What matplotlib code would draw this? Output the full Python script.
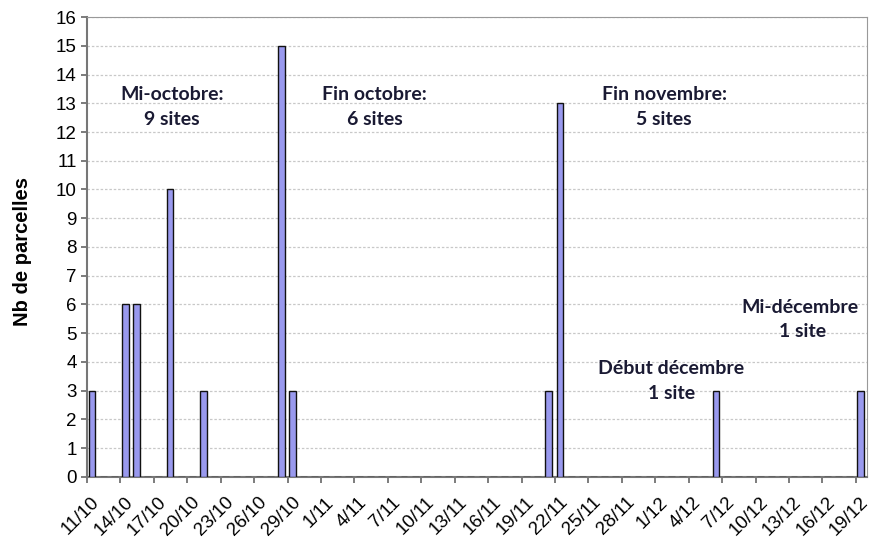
import matplotlib
matplotlib.use('Agg')
import matplotlib.pyplot as plt
import matplotlib.transforms as mtransforms
import pandas as pd

# daily category axis, 11/10 -> 19/12
days = pd.date_range('2000-10-11', '2000-12-19', freq='D')
day_labels = [f"{d.day}/{d.month}" for d in days]

# days with plots (date -> number of parcels)
obs_dates = ['11/10', '14/10', '15/10', '18/10', '21/10', '28/10', '29/10',
             '21/11', '22/11', '6/12', '19/12']
obs_counts = [3, 6, 6, 10, 3, 15, 3, 3, 13, 3, 3]

counts = [0] * len(day_labels)
for d, c in zip(obs_dates, obs_counts):
    counts[day_labels.index(d)] = c

tick_idx = list(range(0, len(day_labels), 3))
tick_labels = [day_labels[i] for i in tick_idx]

fig = plt.figure(figsize=(8.72, 5.42), dpi=100)
ax = fig.add_axes([0.0998, 0.12, 0.8945, 0.8486])

xpos = [i + 0.45 for i in range(len(day_labels))]
ax.bar(xpos, counts, width=0.62, color='#9999ee', edgecolor='#111111',
       linewidth=1.0, zorder=3)

ax.set_xlim(0, len(day_labels))
ax.set_ylim(0, 16)
ax.set_yticks(range(0, 17))
ax.set_xticks(tick_idx)
ax.set_xticklabels(tick_labels, rotation=45, ha='right', va='center',
                   rotation_mode='anchor', fontsize=13.5, family='Liberation Sans')
ax.set_yticklabels([str(v) for v in range(0, 17)], fontsize=13.5,
                   family='Liberation Sans')
ax.tick_params(axis='both', color='#666666', width=1.2, length=4.5)
ax.tick_params(axis='x', pad=12)
ax.tick_params(axis='y', pad=3)

# shift rotated date labels a bit to the right like the original
offset = mtransforms.ScaledTranslation(0.1, 0, fig.dpi_scale_trans)
for lab in ax.get_xticklabels():
    lab.set_transform(lab.get_transform() + offset)

ax.yaxis.grid(True, linestyle=(0, (2, 1.5)), color='#c8c8c8', linewidth=0.9, zorder=0)
for s in ['top', 'right']:
    ax.spines[s].set_color('#999999')
for s in ['left', 'bottom']:
    ax.spines[s].set_color('#777777')
    ax.spines[s].set_linewidth(1.5)

ax.set_ylabel('Nb de parcelles', fontsize=14.5, fontweight='bold',
              family='Liberation Sans')
ax.yaxis.set_label_coords(-0.07, 0.49)

txt = dict(fontsize=14, fontweight='bold', color='#1a1a33', family='Lato',
           ha='center', va='center')
ax.text(7.6, 13.3, 'Mi-octobre:', **txt)
ax.text(7.6, 12.45, '9 sites', **txt)
ax.text(25.8, 13.3, 'Fin octobre:', **txt)
ax.text(25.8, 12.45, '6 sites', **txt)
ax.text(51.8, 13.3, 'Fin novembre:', **txt)
ax.text(51.8, 12.45, '5 sites', **txt)
ax.text(64.0, 5.91, 'Mi-décembre', **txt)
ax.text(64.2, 5.05, '1 site', **txt)
ax.text(52.4, 3.79, 'Début décembre', **txt)
ax.text(52.5, 2.9, '1 site', **txt)

plt.savefig('out.png', dpi=100)
